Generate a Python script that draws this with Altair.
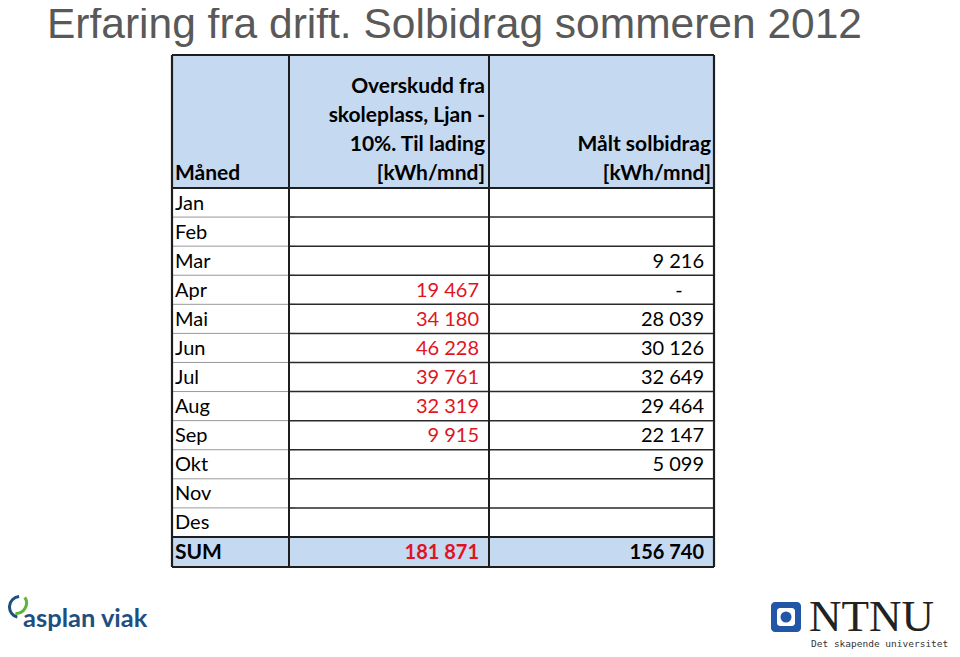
import altair as alt
import pandas as pd

# ---------------- data ----------------
title_text = "Erfaring fra drift. Solbidrag sommeren 2012"
months = ["Jan", "Feb", "Mar", "Apr", "Mai", "Jun", "Jul", "Aug", "Sep", "Okt", "Nov", "Des"]
overskudd = [None, None, None, 19467, 34180, 46228, 39761, 32319, 9915, None, None, None]
maalt = [None, None, 9216, 0, 28039, 30126, 32649, 29464, 22147, 5099, None, None]
sum_label = "SUM"
sum_overskudd = 181871
sum_maalt = 156740
header_month = ["Måned"]
header_col2 = ["Overskudd fra", "skoleplass, Ljan -", "10%. Til lading", "[kWh/mnd]"]
header_col3 = ["Målt solbidrag", "[kWh/mnd]"]
logo_left = "asplan viak"
logo_right = "NTNU"
logo_right_tag = "Det skapende universitet"

# ---------------- layout ----------------
X0, X1, X2, X3 = 172, 289, 489, 714
Y_TOP, Y_HEAD = 55, 188
ROW_H = 29.08
Y_SUM = Y_HEAD + 12 * ROW_H
Y_BOT = 567
HEAD_BLUE = "#c5d9f1"
RED = "#e0141e"
FONT = "Lato"
FS = 20
FS_HEAD = 21

W, H = 944, 641
xs = alt.Scale(domain=[8, 8 + W], nice=False, zero=False)
ys = alt.Scale(domain=[8, 8 + H], nice=False, zero=False, reverse=True)


def fmt(v):
    if v is None:
        return ""
    if v == 0:
        return "-"
    return f"{v:,}".replace(",", " ")


def enc_xy(extra=None):
    d = dict(x=alt.X("x:Q", scale=xs, axis=None), y=alt.Y("y:Q", scale=ys, axis=None))
    if extra:
        d.update(extra)
    return d


def text_layer(df, align, bold=False, size=FS, font=FONT, baseline="middle", weight=None):
    return alt.Chart(df).mark_text(
        align=align, baseline=baseline, fontSize=size, font=font,
        fontWeight=weight if weight else ("bold" if bold else "normal")
    ).encode(**enc_xy({"text": "t:N", "color": alt.Color("c:N", scale=None)}))


# backgrounds
bg = pd.DataFrame([
    dict(x=X0, x2=X3, y=Y_TOP, y2=Y_HEAD, c=HEAD_BLUE),
    dict(x=X0, x2=X3, y=Y_HEAD, y2=Y_SUM, c="#ffffff"),
    dict(x=X0, x2=X3, y=Y_SUM, y2=Y_BOT, c=HEAD_BLUE),
])
bg_layer = alt.Chart(bg).mark_rect().encode(
    **enc_xy({"x2": "x2:Q", "y2": "y2:Q", "color": alt.Color("c:N", scale=None)})
)

# grid lines
row_lines_dark = pd.DataFrame(
    [dict(x=X1, x2=X3, y=Y_HEAD + i * ROW_H, y2=Y_HEAD + i * ROW_H) for i in range(1, 12)]
)
row_lines_light = pd.DataFrame(
    [dict(x=X0, x2=X1 + 6, y=Y_HEAD + i * ROW_H, y2=Y_HEAD + i * ROW_H) for i in range(1, 12)]
)
strong_lines = pd.DataFrame([
    dict(x=X0, x2=X3, y=Y_HEAD, y2=Y_HEAD),
    dict(x=X0, x2=X3, y=Y_SUM, y2=Y_SUM),
    dict(x=X1, x2=X1, y=Y_TOP, y2=Y_BOT),
    dict(x=X2, x2=X2, y=Y_TOP, y2=Y_BOT),
])
outer = pd.DataFrame([
    dict(x=X0, x2=X3, y=Y_TOP, y2=Y_TOP),
    dict(x=X0, x2=X3, y=Y_BOT, y2=Y_BOT),
    dict(x=X0, x2=X0, y=Y_TOP, y2=Y_BOT),
    dict(x=X3, x2=X3, y=Y_TOP, y2=Y_BOT),
])


def rule_layer(df, color, width):
    return alt.Chart(df).mark_rule(color=color, strokeWidth=width).encode(
        **enc_xy({"x2": "x2:Q", "y2": "y2:Q"})
    )


# texts
row_y = [Y_HEAD + (i + 0.5) * ROW_H + 1 for i in range(12)]
sum_y = (Y_SUM + Y_BOT) / 2 + 1

month_df = pd.DataFrame(dict(x=[175] * 12, y=row_y, t=months, c=["#000000"] * 12))
col2_df = pd.DataFrame(
    [dict(x=479, y=row_y[i], t=fmt(v), c=RED) for i, v in enumerate(overskudd) if v is not None]
)
col3_df = pd.DataFrame(
    [dict(x=704, y=row_y[i], t=fmt(v), c="#000000") for i, v in enumerate(maalt) if v]
)
dash_df = pd.DataFrame(
    [dict(x=679, y=row_y[i], t=fmt(v), c="#000000") for i, v in enumerate(maalt) if v == 0]
)
head_left = pd.DataFrame([dict(x=175, y=174, t=header_month[0], c="#000000")])
sum_left = pd.DataFrame([dict(x=175, y=sum_y, t=sum_label, c="#000000")])
head_c2 = pd.DataFrame(
    [dict(x=485, y=87 + 29 * i, t=s, c="#000000") for i, s in enumerate(header_col2)]
)
head_c3 = pd.DataFrame(
    [dict(x=711, y=145 + 29 * i, t=s, c="#000000") for i, s in enumerate(header_col3)]
)
sum_df = pd.DataFrame([dict(x=479, y=sum_y, t=fmt(sum_overskudd), c=RED),
                       dict(x=704, y=sum_y, t=fmt(sum_maalt), c="#000000")])

title_df = pd.DataFrame([dict(x=47, y=38, t=title_text, c="#595959")])

# logos
asplan_df = pd.DataFrame([dict(x=23, y=627, t=logo_left, c="#1d4f7f")])
asplan_arcs = pd.DataFrame([
    dict(x=20, y=607, c="#1d4f7f", th=3.4, th2=6.2),
    dict(x=16, y=603, c="#5fb336", th=1.0, th2=3.2),
])
ntnu_sq = pd.DataFrame([dict(x=771, x2=801, y=602, y2=632, c="#2157a6")])
ntnu_inner = pd.DataFrame([dict(x=777, x2=795, y=608, y2=626, c="#ffffff")])
ntnu_dot = pd.DataFrame([dict(x=786, y=617)])
ntnu_text = pd.DataFrame([dict(x=809, y=631, t=logo_right, c="#222222")])
ntnu_tag = pd.DataFrame([dict(x=811, y=644, t=logo_right_tag, c="#333333")])


def rect_layer(df, radius=0):
    return alt.Chart(df).mark_rect(cornerRadius=radius).encode(
        **enc_xy({"x2": "x2:Q", "y2": "y2:Q", "color": alt.Color("c:N", scale=None)})
    )


arc_layers = [
    alt.Chart(asplan_arcs.iloc[[i]]).mark_arc(
        radius=12, radius2=9, theta=float(asplan_arcs.th[i]), theta2=float(asplan_arcs.th2[i])
    ).encode(**enc_xy({"color": alt.Color("c:N", scale=None)}))
    for i in range(len(asplan_arcs))
]

layers = [
    bg_layer,
    rule_layer(row_lines_light, "#9a9a9a", 1),
    rule_layer(row_lines_dark, "#2a2a2a", 1.5),
    rule_layer(strong_lines, "#1e1e1e", 2),
    rule_layer(outer, "#1e1e1e", 2.2),
    text_layer(month_df, "left"),
    text_layer(col2_df, "right"),
    text_layer(col3_df, "right"),
    text_layer(dash_df, "center"),
    text_layer(head_left, "left", bold=True, size=FS_HEAD),
    text_layer(sum_left, "left", bold=True, size=FS_HEAD),
    text_layer(head_c2, "right", bold=True, size=FS_HEAD),
    text_layer(head_c3, "right", bold=True, size=FS_HEAD),
    text_layer(sum_df, "right", bold=True),
    text_layer(title_df, "left", size=42.5, font="Liberation Sans", baseline="alphabetic"),
    text_layer(asplan_df, "left", bold=True, size=25.5, font="Lato", baseline="alphabetic"),
    *arc_layers,
    rect_layer(ntnu_sq, 4),
    rect_layer(ntnu_inner, 3),
    alt.Chart(ntnu_dot).mark_point(shape="circle", filled=True, size=121, color="#2157a6", opacity=1).encode(**enc_xy()),
    text_layer(ntnu_text, "left", size=45, font="Liberation Serif", baseline="alphabetic"),
    text_layer(ntnu_tag, "left", size=9.5, font="DejaVu Sans Mono"),
]

chart = alt.layer(*layers).properties(
    width=W, height=H, autosize=alt.AutoSizeParams(type="none"), padding=0
).configure_view(strokeWidth=0)

chart.save("out.html", embed_options={"renderer": "svg", "actions": False})
